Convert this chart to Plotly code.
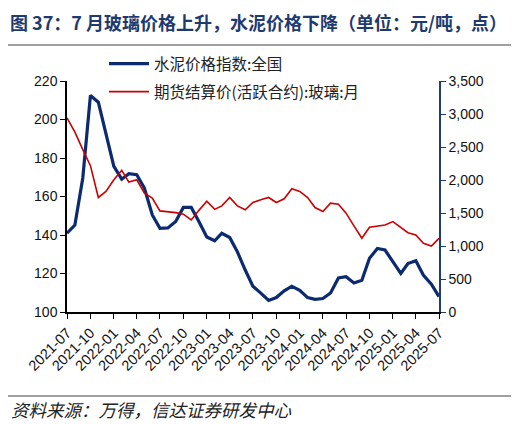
import plotly.graph_objects as go
import pandas as pd

months = pd.date_range("2021-07-01", "2025-07-01", freq="MS")

cement_index = [140.9, 145.2, 169.6, 212.5, 209.0, 192.0, 175.7, 169.0, 171.8, 171.3,
                164.3, 150.4, 143.5, 143.7, 147.0, 154.3, 154.3, 147.0, 139.0, 137.0,
                140.9, 138.7, 131.3, 121.8, 113.4, 109.8, 106.0, 107.5, 111.0, 113.4,
                111.3, 107.5, 106.6, 107.0, 109.9, 117.7, 118.3, 115.1, 116.5, 127.9,
                133.0, 132.2, 126.1, 120.0, 125.2, 126.6, 119.1, 114.4, 108.0]

glass_futures = [2943, 2724, 2461, 2217, 1735, 1826, 2004, 2146, 1969, 2004,
                 1802, 1726, 1532, 1522, 1506, 1482, 1395, 1540, 1680, 1555,
                 1608, 1735, 1608, 1548, 1659, 1700, 1735, 1659, 1715, 1867,
                 1826, 1735, 1583, 1522, 1649, 1634, 1497, 1304, 1117, 1284,
                 1304, 1319, 1370, 1284, 1202, 1167, 1041, 1000, 1117]

series_names = ["水泥价格指数:全国", "期货结算价(活跃合约):玻璃:月"]
title_text = "图 37：7 月玻璃价格上升，水泥价格下降（单位：元/吨，点）"
source_text = "资料来源：万得，信达证券研发中心"

BLUE = "#0B2A6F"
RED = "#CC0000"
CJK = "Noto Sans CJK SC"

# page body has an 8px margin: work in reference pixels, shift by OFF
OFF = 8
W, H = 519 - OFF, 424 - OFF
L, R, T, B = 67 - OFF, 439 - OFF, 81 - OFF, 312 - OFF


def px_x(px):
    return (px - OFF - L) / (R - L)


def px_y(py):
    return (B - (py - OFF)) / (B - T)


fig = go.Figure()
fig.add_trace(go.Scatter(x=months, y=cement_index, name=series_names[0], mode="lines",
                         line=dict(color=BLUE, width=3.2), legend="legend"))
fig.add_trace(go.Scatter(x=months, y=glass_futures, name=series_names[1], mode="lines",
                         line=dict(color=RED, width=1.6), yaxis="y2", legend="legend2"))

tick_font = dict(size=14, family="Liberation Sans", color="#111111")
xtick_font = dict(size=14.5, family="Liberation Sans", color="#111111")
legend_font = dict(family=CJK, size=15.5, color="#222222")

fig.update_layout(
    width=W, height=H,
    margin=dict(l=L, r=W - R, t=T, b=H - B, autoexpand=False),
    paper_bgcolor="white", plot_bgcolor="white",
    font=dict(family="Liberation Sans, " + CJK, size=13, color="#111111"),
    showlegend=True,
    xaxis=dict(
        type="date",
        range=[months[0], months[-1]],
        tickvals=months[::3],
        ticktext=[d.strftime("%Y-%m") for d in months[::3]],
        tickangle=-45,
        ticks="outside", ticklen=5, tickwidth=1.2, tickcolor="black",
        showline=True, linecolor="black", linewidth=1.5,
        showgrid=False, zeroline=False,
        tickfont=xtick_font,
    ),
    yaxis=dict(
        range=[100, 220], dtick=20,
        ticks="outside", ticklen=5, tickwidth=1.2, tickcolor="black",
        showline=True, linecolor="black", linewidth=1.5,
        showgrid=False, zeroline=False,
        tickfont=tick_font,
    ),
    yaxis2=dict(
        range=[0, 3500], dtick=500, tickformat=",",
        overlaying="y", side="right",
        ticks="outside", ticklen=5, tickwidth=1.2, tickcolor="#1F3C7A",
        showline=True, linecolor="#1F3C7A", linewidth=1.5,
        showgrid=False, zeroline=False,
        tickfont=tick_font,
    ),
    legend=dict(x=px_x(104), y=px_y(64), xanchor="left", yanchor="middle",
                itemwidth=40, bgcolor="rgba(0,0,0,0)", font=legend_font),
    legend2=dict(x=px_x(104), y=px_y(92), xanchor="left", yanchor="middle",
                 itemwidth=40, bgcolor="rgba(0,0,0,0)", font=legend_font),
    shapes=[
        dict(type="line", xref="paper", yref="paper", x0=px_x(5), x1=px_x(514),
             y0=px_y(45), y1=px_y(45), line=dict(color="#808080", width=1.5)),
        dict(type="line", xref="paper", yref="paper", x0=px_x(5), x1=px_x(514),
             y0=px_y(396), y1=px_y(396), line=dict(color="#808080", width=1.5)),
    ],
    annotations=[
        dict(text="<b>" + title_text + "</b>", xref="paper", yref="paper",
             x=px_x(8.5), y=px_y(OFF), xanchor="left", yanchor="top", showarrow=False,
             borderpad=0, font=dict(family=CJK, size=18, color="#1F3A6E")),
        dict(text=source_text, xref="paper", yref="paper", x=px_x(8.5), y=px_y(409),
             xanchor="left", yanchor="middle", showarrow=False,
             font=dict(family=CJK, size=17.5, color="#222222", style="italic")),
    ],
)

fig.write_html("out.html")
